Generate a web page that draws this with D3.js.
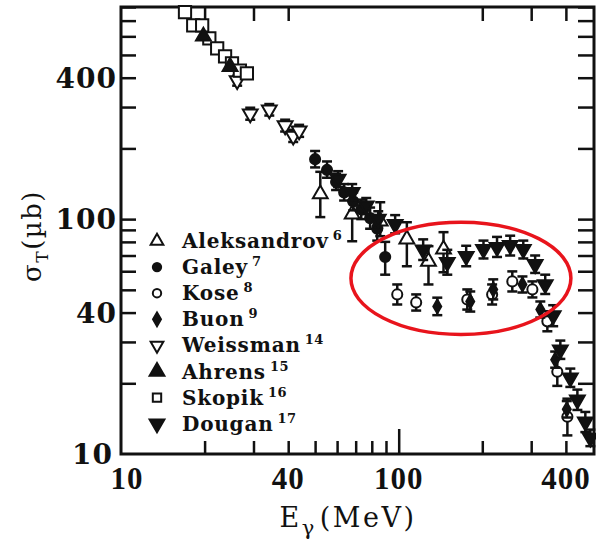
<!DOCTYPE html>
<html>
<head>
<meta charset="utf-8">
<script src="https://cdn.jsdelivr.net/npm/d3@7"></script>
<style>
  body { margin: 0; background: #fff; }
  text { font-family: "Liberation Serif", "Times New Roman", serif; fill: #111; }
  .wide { font-family: "DejaVu Serif", serif; }
</style>
</head>
<body>
<script>
// [E (MeV), sigma (ub), low, high]
var aleksandrov = [
  [52.2, 128, 102, 159], [68.0, 105, 80.5, 119], [85.8, 98, 84.6, 118],
  [107, 82.2, 63, 97], [128, 66.1, 52.7, 76.7], [145, 74.4, 59.4, 88]
];
var galey = [
  [50.0, 180, 166, 195], [55.2, 162, 150, 176], [59.5, 144, 133, 156],
  [63.6, 130, 120, 141], [68.6, 119, 109, 130], [73.3, 110, 100, 121],
  [78.9, 101, 91, 112], [83.7, 91, 81, 102], [89.4, 69, 58, 80]
];
var kose = [
  [98.8, 47.8, 43.3, 52.7], [115.6, 44.2, 40.8, 47.8], [176.6, 45.5, 41.2, 50.2],
  [217, 47.8, 43.3, 52.7], [256.5, 54.3, 49.2, 59.9], [303, 50.2, 46.4, 54.3],
  [343, 36.7, 33.3, 40.5], [372.5, 22.4, 19.5, 25.7], [405, 14.4, 12.0, 17.2]
];
var buon = [
  [137.7, 42.5, 39.0, 46.3], [181, 44.6, 40.4, 49.2], [219, 50.2, 45.5, 55.4],
  [279, 52.7, 48.7, 57.0], [323.6, 41.2, 38.1, 44.6], [366, 25.2, 23.3, 27.3],
  [403, 15.5, 14.3, 16.8]
];
var weissman = [
  [26.2, 389, 370, 408], [29.2, 281, 265, 298], [34.2, 292, 276, 309],
  [39.0, 250, 236, 265], [41.7, 226, 213, 240], [43.8, 238, 224, 252]
];
var ahrens = [[19.8, 600, 600, 600], [24.7, 446, 446, 446]];
var skopik = [
  [17.0, 760, 760, 760], [18.2, 668, 668, 668], [19.6, 668, 668, 668],
  [20.8, 588, 588, 588], [22.2, 533, 533, 533], [23.7, 493, 493, 493],
  [25.1, 460, 460, 460], [26.8, 429, 429, 429], [28.4, 417, 417, 417]
];
var dougan = [
  [60.5, 148, 137, 160], [68.0, 130, 120, 141], [76.4, 114, 105, 123],
  [84.4, 100, 92, 108], [97.1, 95, 87, 104], [122.5, 74, 67, 82],
  [149.6, 65.5, 58, 74], [175, 69.5, 63, 77], [202, 74.4, 68, 81],
  [226, 75.9, 69, 84], [252, 77.4, 70, 85], [281, 74.4, 68, 81],
  [310, 64.2, 59, 70], [337, 52.7, 48, 58], [360, 38.9, 35, 43],
  [382, 27.8, 25.4, 30.4], [415, 21.1, 19.3, 23.1], [440, 17.0, 15.4, 18.8],
  [470, 13.7, 12.4, 15.1], [490, 11.7, 10.8, 12.7]
];

var xTickVals = [20, 30, 40, 50, 60, 70, 80, 90, 100, 200, 300, 400];
var xTopVals = [20, 30, 40, 200, 300, 400];
var yTickVals = [20, 30, 40, 50, 60, 70, 80, 90, 100, 200, 300, 400, 500, 600, 700, 800];
var xLabels = [10, 40, 100, 400];
var yLabels = [10, 40, 100, 400];

var legendNames = ["Aleksandrov", "Galey", "Kose", "Buon", "Weissman", "Ahrens", "Skopik", "Dougan"];
var legendRefs = ["6", "7", "8", "9", "14", "15", "16", "17"];

// circled region [E left, E right, sigma top, sigma bottom]
var ring = [67.3, 417, 97, 32.3];

var width = 596,
    height = 543;

var x = d3.scaleLog().domain([10, 505]).range([121, 594]);
var y = d3.scaleLog().domain([10, 800]).range([454, 7]);

var svg = d3.select("body").append("svg")
    .attr("width", width)
    .attr("height", height);

// ticks, all pointing inwards
svg.append("g")
    .attr("transform", "translate(0," + y(10) + ")")
    .call(d3.axisBottom(x).tickValues(xTickVals).tickFormat("").tickSize(-13))
    .call(function(g) {
      g.select(".domain").remove();
      g.selectAll(".tick line").filter(function(d) { return d === 100; }).attr("y2", -25);
    });

svg.append("g")
    .attr("transform", "translate(0," + y(800) + ")")
    .call(d3.axisTop(x).tickValues(xTopVals).tickFormat("").tickSize(-14))
    .call(function(g) { g.select(".domain").remove(); });

svg.append("g")
    .attr("transform", "translate(" + x(10) + ",0)")
    .call(d3.axisLeft(y).tickValues(yTickVals).tickFormat("").tickSize(-15))
    .call(function(g) { g.select(".domain").remove(); });

svg.append("g")
    .attr("transform", "translate(" + x(505) + ",0)")
    .call(d3.axisRight(y).tickValues(yTickVals).tickFormat("").tickSize(-16))
    .call(function(g) { g.select(".domain").remove(); });

svg.selectAll(".tick line")
    .attr("stroke", "#111")
    .attr("stroke-width", 2.5);

svg.append("rect")
    .attr("x", x(10))
    .attr("y", y(800))
    .attr("width", x(505) - x(10))
    .attr("height", y(10) - y(800))
    .attr("fill", "none")
    .attr("stroke", "#111")
    .attr("stroke-width", 3);

// tick labels
svg.append("g").selectAll("text")
    .data(xLabels)
    .enter().append("text")
    .attr("x", function(d) { return x(d) + (d === 10 ? 6 : 0); })
    .attr("y", 489)
    .attr("text-anchor", "middle")
    .attr("font-size", 31)
    .attr("font-weight", "bold")
    .attr("letter-spacing", 1)
    .text(function(d) { return d; });

svg.append("g").selectAll("text")
    .data(yLabels)
    .enter().append("text")
    .attr("class", "wide")
    .attr("x", function(d) { return d === 10 ? 113 : 117; })
    .attr("y", function(d) { return y(d) + 10; })
    .attr("text-anchor", "end")
    .attr("font-size", 28)
    .attr("font-weight", "bold")
    .attr("letter-spacing", 1)
    .text(function(d) { return d; });

// axis titles
var xt = svg.append("text")
    .attr("class", "wide")
    .attr("x", 348)
    .attr("y", 527)
    .attr("text-anchor", "middle")
    .attr("font-size", 27)
    .attr("letter-spacing", 2.5);
xt.append("tspan").text("E");
xt.append("tspan").attr("font-size", 21).attr("dy", 8).text("γ");
xt.append("tspan").attr("dy", -8).attr("dx", 3).text("(MeV)");

var yt = svg.append("text")
    .attr("class", "wide")
    .attr("transform", "translate(41,236)rotate(-90)")
    .attr("text-anchor", "middle")
    .attr("font-size", 26)
    .attr("letter-spacing", 1.5);
yt.append("tspan").text("σ");
yt.append("tspan").attr("font-size", 17).attr("dy", 7).text("T");
yt.append("tspan").attr("dy", -7).text("(µb)");

// markers
var tri = d3.symbol().type(d3.symbolTriangle).size(95),
    triSmall = d3.symbol().type(d3.symbolTriangle).size(70),
    circ = d3.symbol().type(d3.symbolCircle).size(80),
    circSmall = d3.symbol().type(d3.symbolCircle).size(55),
    sq = d3.symbol().type(d3.symbolSquare).size(150),
    sqSmall = d3.symbol().type(d3.symbolSquare).size(70),
    dia = d3.symbol().type(d3.symbolDiamond).size(55);

var series = [
  {data: weissman, shape: tri, flip: true, fill: "#fff"},
  {data: skopik, shape: sq, flip: false, fill: "#fff"},
  {data: ahrens, shape: tri, flip: false, fill: "#111"},
  {data: aleksandrov, shape: tri, flip: false, fill: "#fff"},
  {data: galey, shape: circ, flip: false, fill: "#111"},
  {data: kose, shape: circ, flip: false, fill: "#fff"},
  {data: buon, shape: dia, flip: false, fill: "#111"},
  {data: dougan, shape: tri, flip: true, fill: "#111"}
];

var marks = svg.append("g");

series.forEach(function(s) {
  var g = marks.append("g");
  var eb = g.selectAll(".eb")
      .data(s.data.filter(function(d) { return d[2] !== d[3]; }))
      .enter().append("g")
      .attr("stroke", "#111")
      .attr("stroke-width", 2.5);
  eb.append("line")
      .attr("x1", function(d) { return x(d[0]); })
      .attr("x2", function(d) { return x(d[0]); })
      .attr("y1", function(d) { return y(d[2]); })
      .attr("y2", function(d) { return y(d[3]); });
  eb.selectAll(".cap")
      .data(function(d) { return [[d[0], d[2]], [d[0], d[3]]]; })
      .enter().append("line")
      .attr("x1", function(d) { return x(d[0]) - 5; })
      .attr("x2", function(d) { return x(d[0]) + 5; })
      .attr("y1", function(d) { return y(d[1]); })
      .attr("y2", function(d) { return y(d[1]); });
  g.selectAll("path")
      .data(s.data)
      .enter().append("path")
      .attr("d", s.shape)
      .attr("transform", function(d) {
        return "translate(" + x(d[0]) + "," + y(d[1]) + ")" + (s.flip ? "rotate(180)" : "");
      })
      .attr("fill", s.fill)
      .attr("stroke", "#111")
      .attr("stroke-width", 2);
});

// legend
var legendShapes = [
  {shape: triSmall, flip: false, fill: "#fff"},
  {shape: circSmall, flip: false, fill: "#111"},
  {shape: circSmall, flip: false, fill: "#fff"},
  {shape: dia, flip: false, fill: "#111"},
  {shape: triSmall, flip: true, fill: "#fff"},
  {shape: tri, flip: false, fill: "#111"},
  {shape: sqSmall, flip: false, fill: "#fff"},
  {shape: tri, flip: true, fill: "#111"}
];

var legend = svg.append("g")
    .selectAll("g")
    .data(legendNames)
    .enter().append("g")
    .attr("transform", function(d, i) { return "translate(157," + (248 + i * 26.1) + ")"; });

legend.append("path")
    .attr("d", function(d, i) { return legendShapes[i].shape(); })
    .attr("transform", function(d, i) { return "translate(0,-7)" + (legendShapes[i].flip ? "rotate(180)" : ""); })
    .attr("fill", function(d, i) { return legendShapes[i].fill; })
    .attr("stroke", "#111")
    .attr("stroke-width", 2);

var lt = legend.append("text")
    .attr("class", "wide")
    .attr("x", 25)
    .attr("font-size", 20)
    .attr("font-weight", "bold")
    .attr("letter-spacing", 0.8);
lt.append("tspan").text(function(d) { return d; });
lt.append("tspan")
    .attr("font-size", 13)
    .attr("dx", 4)
    .attr("dy", -8)
    .attr("letter-spacing", 0.5)
    .text(function(d, i) { return legendRefs[i]; });

// red circled region
svg.append("ellipse")
    .attr("cx", (x(ring[0]) + x(ring[1])) / 2)
    .attr("cy", (y(ring[2]) + y(ring[3])) / 2)
    .attr("rx", (x(ring[1]) - x(ring[0])) / 2)
    .attr("ry", (y(ring[3]) - y(ring[2])) / 2)
    .attr("fill", "none")
    .attr("stroke", "#e8141c")
    .attr("stroke-width", 3.5);
</script>
</body>
</html>
